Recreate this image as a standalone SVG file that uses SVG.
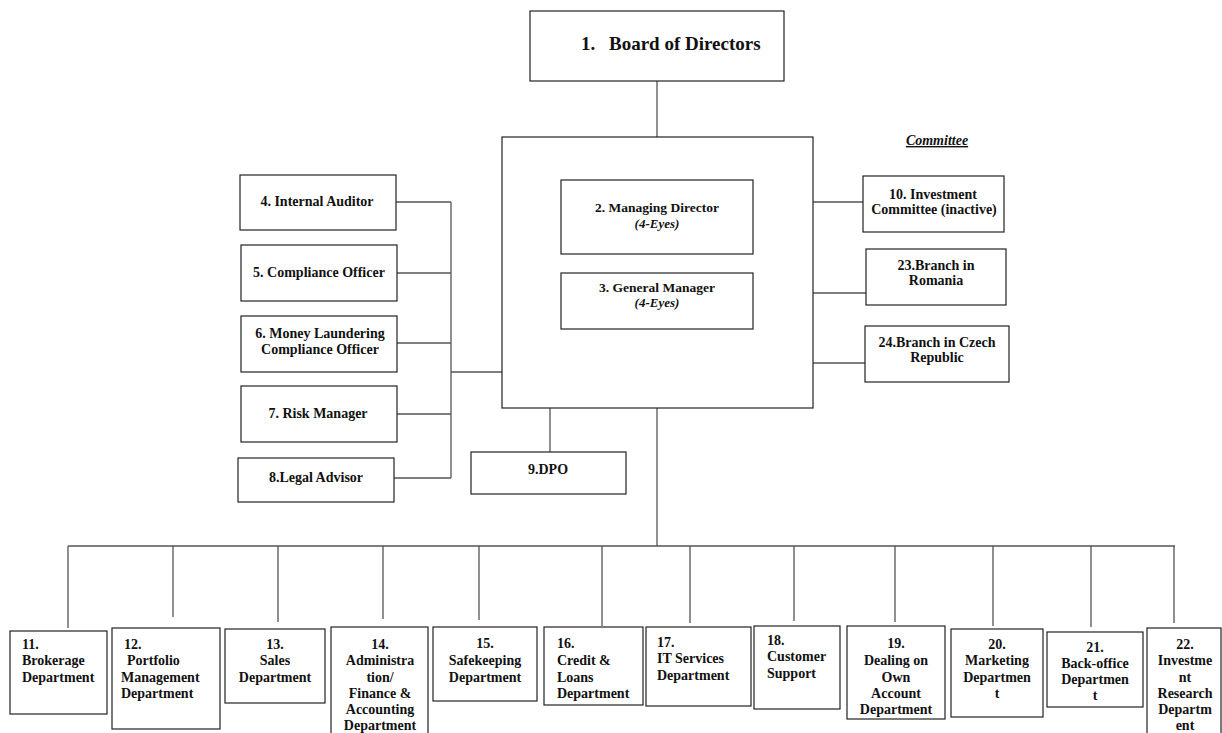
<svg xmlns="http://www.w3.org/2000/svg" width="1222" height="733" viewBox="0 0 1222 733">
<style>
.box{fill:#fff;stroke:#222;stroke-width:1.2}
.ln{fill:none;stroke:#555;stroke-width:1.3}
text{font-family:"Liberation Serif","Times New Roman",serif;font-weight:bold;font-size:14px;fill:#111}
.c{text-anchor:middle}
.it{font-style:italic;font-weight:bold;font-size:13px}
</style>
<rect width="1222" height="733" fill="#fff"/>
<g id="connectors">
<path class="ln" d="M657 81V180"/>
<path class="ln" d="M550 408V452"/>
<path class="ln" d="M657 408V546"/>
<path class="ln" d="M68 546H1175"/>
<path class="ln" d="M68 546V628M173 546V617M278 546V622M383 546V619M479 546V620M602 546V626M690 546V623M794 546V621M895 546V622M993 546V626M1091 546V627M1174 546V623"/>
<path class="ln" d="M396 202H451M397 273H451M397 343H451M397 414H451M394 478H451M451 202V478M451 372H502"/>
<path class="ln" d="M813 202H863M813 293H866M813 363H865"/>
</g>
<g id="n1"><rect class="box" x="530" y="11" width="254" height="70"/><text x="581" y="50" style="font-size:19px">1.</text><text x="609" y="50" style="font-size:19px">Board of Directors</text></g>
<g id="outer"><rect class="box" x="502" y="137" width="311" height="271"/></g>
<g id="n2"><rect class="box" x="561" y="180" width="192" height="74"/><text class="c" x="657" y="212" style="font-size:13.5px">2. Managing Director</text><text class="c it" x="657" y="228">(4-Eyes)</text></g>
<g id="n3"><rect class="box" x="561" y="273" width="192" height="56"/><text class="c" x="657" y="292" style="font-size:13.5px">3. General Manager</text><text class="c it" x="657" y="307">(4-Eyes)</text></g>
<g id="n4"><rect class="box" x="240" y="175" width="156" height="55"/><text class="c" x="317" y="206">4. Internal Auditor</text></g>
<g id="n5"><rect class="box" x="241" y="245" width="156" height="56"/><text class="c" x="319" y="277">5. Compliance Officer</text></g>
<g id="n6"><rect class="box" x="241" y="316" width="156" height="56"/><text class="c" x="320" y="338">6. Money Laundering</text><text class="c" x="320" y="354">Compliance Officer</text></g>
<g id="n7"><rect class="box" x="241" y="386" width="156" height="56"/><text class="c" x="318" y="418">7. Risk Manager</text></g>
<g id="n8"><rect class="box" x="238" y="458" width="156" height="44"/><text class="c" x="316" y="482">8.Legal Advisor</text></g>
<g id="n9"><rect class="box" x="471" y="452" width="155" height="42"/><text class="c" x="548" y="474">9.DPO</text></g>
<g id="committee"><text class="c" x="937" y="145" style="font-style:italic;text-decoration:underline">Committee</text></g>
<g id="n10"><rect class="box" x="863" y="176" width="141" height="56"/><text class="c" x="933" y="199">10. Investment</text><text class="c" x="934" y="214">Committee (inactive)</text></g>
<g id="n23"><rect class="box" x="866" y="249" width="140" height="56"/><text class="c" x="936" y="270">23.Branch in</text><text class="c" x="936" y="285">Romania</text></g>
<g id="n24"><rect class="box" x="865" y="326" width="144" height="56"/><text class="c" x="937" y="347">24.Branch in Czech</text><text class="c" x="937" y="362">Republic</text></g>
<g id="n11"><rect class="box" x="10" y="631" width="97" height="83"/><text x="22" y="649">11.</text><text x="22" y="665">Brokerage</text><text x="22" y="682">Department</text></g>
<g id="n12"><rect class="box" x="112" y="628" width="108" height="101"/><text x="124" y="649">12.</text><text x="127" y="665">Portfolio</text><text x="121" y="682">Management</text><text x="121" y="698">Department</text></g>
<g id="n13"><rect class="box" x="225" y="629" width="100" height="74"/><text class="c" x="275" y="649">13.</text><text class="c" x="275" y="665">Sales</text><text class="c" x="275" y="682">Department</text></g>
<g id="n14"><rect class="box" x="331" y="627" width="97" height="120"/><text class="c" x="380" y="649">14.</text><text class="c" x="380" y="665">Administra</text><text class="c" x="380" y="682">tion/</text><text class="c" x="380" y="698">Finance &amp;</text><text class="c" x="380" y="714">Accounting</text><text class="c" x="380" y="730">Department</text></g>
<g id="n15"><rect class="box" x="433" y="627" width="104" height="74"/><text class="c" x="485" y="648">15.</text><text class="c" x="485" y="665">Safekeeping</text><text class="c" x="485" y="682">Department</text></g>
<g id="n16"><rect class="box" x="544" y="627" width="99" height="78"/><text x="557" y="648">16.</text><text x="557" y="665">Credit &amp;</text><text x="557" y="682">Loans</text><text x="557" y="698">Department</text></g>
<g id="n17"><rect class="box" x="646" y="627" width="105" height="79"/><text x="657" y="647">17.</text><text x="657" y="663">IT Services</text><text x="657" y="680">Department</text></g>
<g id="n18"><rect class="box" x="754" y="626" width="86" height="83"/><text x="767" y="645">18.</text><text x="767" y="661">Customer</text><text x="767" y="678">Support</text></g>
<g id="n19"><rect class="box" x="847" y="626" width="98" height="93"/><text class="c" x="896" y="648">19.</text><text class="c" x="896" y="665">Dealing on</text><text class="c" x="896" y="682">Own</text><text class="c" x="896" y="698">Account</text><text class="c" x="896" y="714">Department</text></g>
<g id="n20"><rect class="box" x="951" y="629" width="92" height="88"/><text class="c" x="997" y="649">20.</text><text class="c" x="997" y="665">Marketing</text><text class="c" x="997" y="682">Departmen</text><text class="c" x="997" y="698">t</text></g>
<g id="n21"><rect class="box" x="1047" y="632" width="96" height="75"/><text class="c" x="1095" y="652">21.</text><text class="c" x="1095" y="668">Back-office</text><text class="c" x="1095" y="684">Departmen</text><text class="c" x="1095" y="700">t</text></g>
<g id="n22"><rect class="box" x="1147" y="628" width="74" height="120"/><text class="c" x="1185" y="649">22.</text><text class="c" x="1185" y="665">Investme</text><text class="c" x="1185" y="682">nt</text><text class="c" x="1185" y="698">Research</text><text class="c" x="1185" y="714">Departm</text><text class="c" x="1185" y="730">ent</text></g>
</svg>
